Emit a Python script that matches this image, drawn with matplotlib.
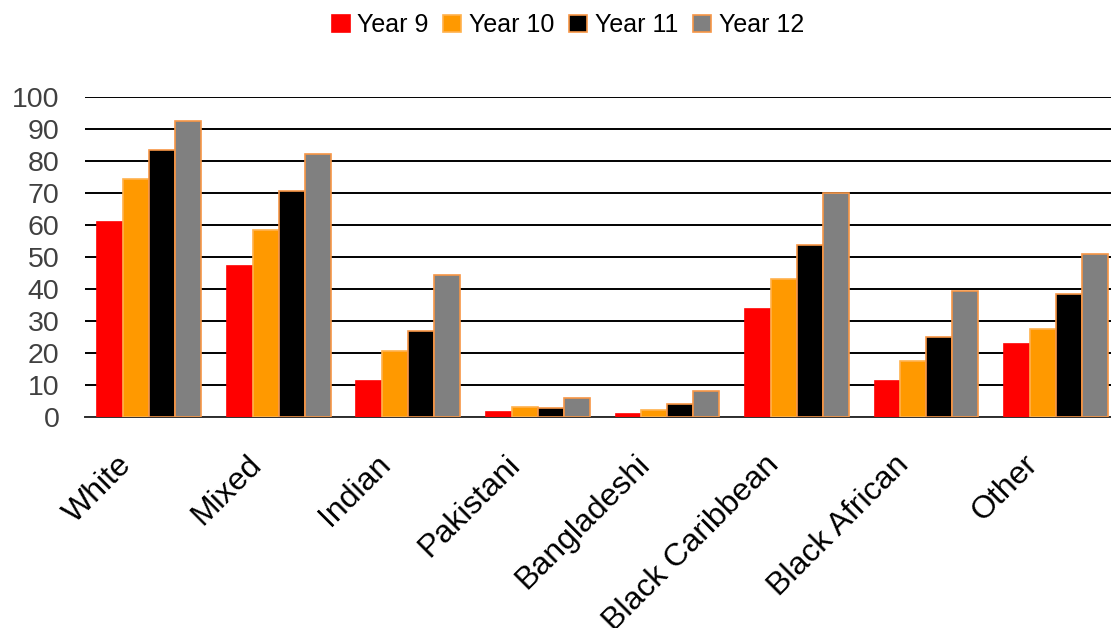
import numpy as np
import matplotlib
matplotlib.use('Agg')
import matplotlib.pyplot as plt
from matplotlib.transforms import ScaledTranslation

plt.rcParams['font.family'] = ['Liberation Sans', 'DejaVu Sans']

# percentages by ethnic group, one list per school year
groups = ['White', 'Mixed', 'Indian', 'Pakistani', 'Bangladeshi',
          'Black Caribbean', 'Black African', 'Other']
year9 = [61, 47.3, 11.4, 1.5, 0.8, 33.9, 11.4, 22.7]
year10 = [74.5, 58.5, 20.5, 3.0, 2.1, 43, 17.6, 27.6]
year11 = [83.5, 70.5, 27, 2.8, 4.2, 53.8, 25, 38.3]
year12 = [92.5, 82.2, 44.5, 5.8, 8.2, 70, 39.5, 50.8]
series_names = ['Year 9', 'Year 10', 'Year 11', 'Year 12']
y_ticks = [0, 10, 20, 30, 40, 50, 60, 70, 80, 90, 100]

fills = ['#FF0000', '#FF9900', '#000000', '#808080']
edges = ['#FF0000', '#FFB24D', '#F79646', '#F79646']

fig = plt.figure(figsize=(11.11, 6.28), dpi=100)
ax = fig.add_axes([0.0761, 0.336, 0.9325, 0.5095])

x = np.arange(len(groups))
w = 0.2
for i, vals in enumerate([year9, year10, year11, year12]):
    ax.bar(x + (i - 1.5) * w, vals, width=w, color=fills[i],
           edgecolor=edges[i], linewidth=1.2, label=series_names[i], zorder=3)

ax.set_ylim(0, 100)
ax.set_xlim(-0.5, len(groups) - 0.5)
ax.set_yticks(y_ticks)
ax.yaxis.grid(True, color='black', linewidth=1.4, zorder=0)
ax.set_axisbelow(True)
for s in ['left', 'right', 'top']:
    ax.spines[s].set_visible(False)
ax.spines['bottom'].set_color('#303030')
ax.spines['bottom'].set_linewidth(1.4)

ax.tick_params(axis='y', length=0, pad=18, labelsize=20.5, labelcolor='#404040')
ax.tick_params(axis='x', length=0, pad=31, labelsize=23)
ax.set_xticks(x)
ax.set_xticklabels(groups, rotation=45, ha='right', va='center',
                   rotation_mode='anchor')
# nudge the slanted labels left so they end just short of each group centre
for lbl in ax.get_xticklabels():
    lbl.set_transform(lbl.get_transform() +
                      ScaledTranslation(-0.22, 0, fig.dpi_scale_trans))

fig.legend(loc='upper center', bbox_to_anchor=(0.511, 1.015), ncol=4,
           frameon=False, fontsize=18, handlelength=0.72, handleheight=0.68,
           handletextpad=0.3, columnspacing=0.6)

fig.savefig('out.png', dpi=100)
